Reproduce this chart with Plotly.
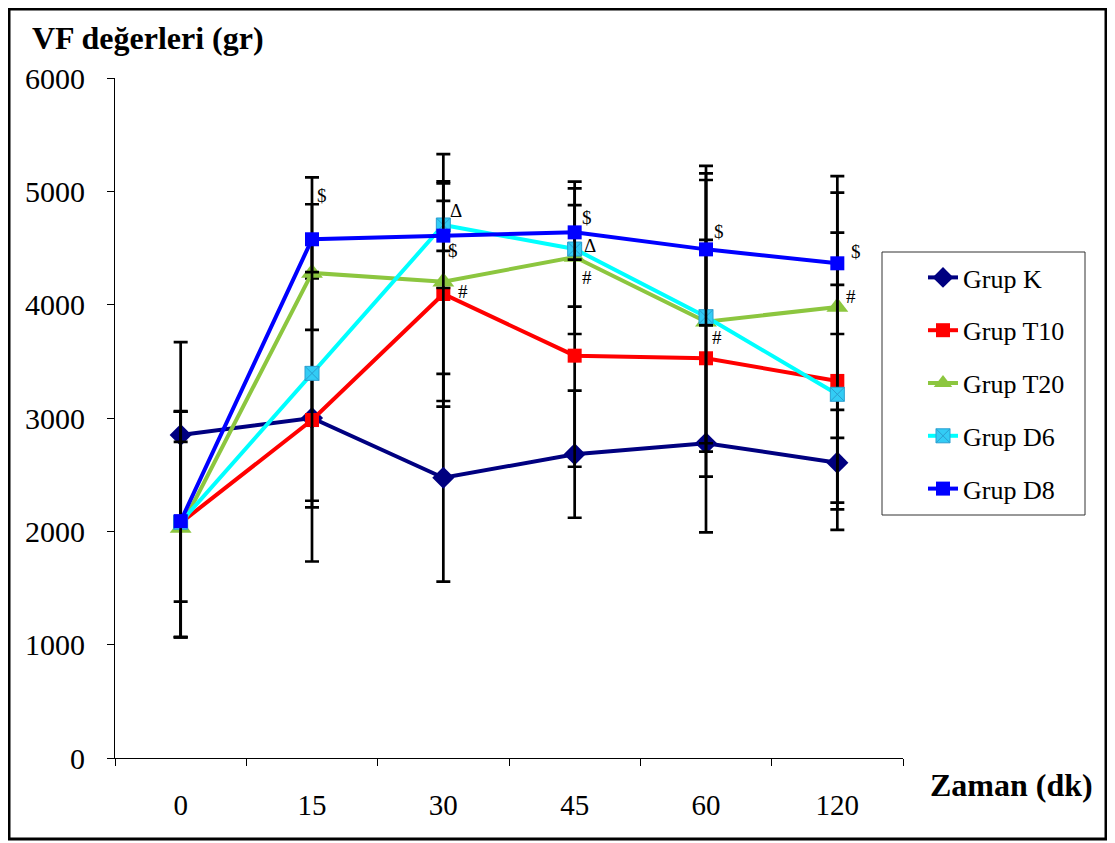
import plotly.graph_objects as go

categories = ["0", "15", "30", "45", "60", "120"]

grup_k = [2850, 3000, 2473, 2680, 2777, 2606]
grup_t10 = [2075, 2982, 4094, 3550, 3527, 3327]
grup_t20 = [2030, 4280, 4203, 4420, 3850, 3980]
grup_d6 = [2080, 3394, 4703, 4491, 3894, 3209]
grup_d8 = [2090, 4577, 4609, 4638, 4488, 4365]

k_plus = [820, 390, 917, 561, 786, 465]
k_minus = [820, 730, 917, 560, 786, 594]
t10_plus = [985, 1250, 994, 980, 1045, 1308]
t10_minus = [1005, 1248, 994, 980, 1045, 1074]
t20_plus = [1025, 606, 1126, 665, 1250, 1155]
t20_minus = [965, 503, 1053, 679, 1147, 1155]
d6_plus = [975, 1180, 212, 535, 1330, 965]
d6_minus = [1015, 1182, 229, 509, 1117, 1015]
d8_plus = [700, 546, 462, 241, 671, 624]
d8_minus = [710, 290, 462, 241, 671, 624]

ann_x = ["15", "30", "30", "30", "45", "45", "45", "60", "60", "120", "120"]
ann_y = [4959, 4835, 4474, 4112, 4765, 4518, 4244, 4650, 3706, 4465, 4068]
ann_text = ["$", "Δ", "$", "#", "$", "Δ", "#", "$", "#", "$", "#"]
ann_dx = [10, 13, 10, 20, 12, 15, 12, 13, 11, 19, 14]

FONT = "Liberation Serif"

# page offset (body margin) is 8px; geometry below is in figure pixels
L, T, PW, PH = 107, 70, 788, 680


def px(figx):
    return (figx - L) / PW


def py(figy):
    return (T + PH - figy) / PH


series = [
    ("Grup K", grup_k, k_plus, k_minus, "#000080", "diamond", 17, "#000080", 0),
    ("Grup T10", grup_t10, t10_plus, t10_minus, "#FF0000", "square", 14, "#FF0000", 0),
    ("Grup T20", grup_t20, t20_plus, t20_minus, "#8CC63F", "triangle-up", 19, "#8CC63F", 0),
    ("Grup D6", grup_d6, d6_plus, d6_minus, "#00FFFF", "square-x", 14, "#2A9FD0", 1),
    ("Grup D8", grup_d8, d8_plus, d8_minus, "#0000FF", "square", 14, "#0000FF", 0),
]

fig = go.Figure()
for i, (name, vals, ep, em, col, sym, size, mline, mlw) in enumerate(series):
    mcolor = "#33CCF5" if name == "Grup D6" else col
    fig.add_trace(go.Scatter(
        x=categories, y=vals, name=name, mode="lines+markers",
        line=dict(color=col, width=4),
        marker=dict(symbol=sym, size=size, color=mcolor,
                    line=dict(color=mline, width=mlw)),
        error_y=dict(type="data", symmetric=False, array=ep, arrayminus=em,
                     color="black", thickness=2.7, width=7),
        legendgroup=name,
    ))

annotations = []
for x, y, t, dx in zip(ann_x, ann_y, ann_text, ann_dx):
    annotations.append(dict(x=categories.index(x), y=y, text=t, showarrow=False,
                            xref="x", yref="y", xshift=dx,
                            font=dict(family=FONT, size=19, color="black")))

annotations.append(dict(text="<b>VF değerleri (gr)</b>", xref="paper", yref="paper",
                        x=px(30 - 8), y=py(38 - 8), xanchor="left", yanchor="middle",
                        showarrow=False, font=dict(family=FONT, size=32, color="black")))
annotations.append(dict(text="<b>Zaman (dk)</b>", xref="paper", yref="paper",
                        x=px(928 - 8), y=py(785 - 8), xanchor="left", yanchor="middle",
                        showarrow=False, font=dict(family=FONT, size=32, color="black")))

shapes = [
    dict(type="rect", xref="paper", yref="paper",
         x0=px(1), x1=px(1098), y0=py(831), y1=py(1),
         line=dict(color="black", width=3), fillcolor="rgba(0,0,0,0)"),
    dict(type="rect", xref="paper", yref="paper",
         x0=px(882 - 8), x1=px(1085 - 8), y0=py(515 - 8), y1=py(252 - 8),
         line=dict(color="#333333", width=1), fillcolor="rgba(0,0,0,0)"),
]

fig.update_layout(
    width=1107, height=835,
    margin=dict(l=L, r=1107 - L - PW, t=T, b=835 - T - PH),
    paper_bgcolor="white", plot_bgcolor="white",
    font=dict(family=FONT, color="black"),
    showlegend=True,
    legend=dict(x=px(915), y=py(246), xanchor="left", yanchor="top",
                bgcolor="rgba(0,0,0,0)", borderwidth=0,
                font=dict(family=FONT, size=26, color="black"),
                tracegroupgap=16, itemsizing="trace"),
    xaxis=dict(type="category", range=[-0.5, 5.5], showgrid=False, zeroline=False,
               showline=True, linecolor="black", linewidth=1,
               ticks="outside", tickson="boundaries", ticklen=7, tickcolor="black",
               tickfont=dict(family=FONT, size=29, color="black"), ticklabelstandoff=21),
    yaxis=dict(range=[0, 6000], dtick=1000, showgrid=False, zeroline=False,
               showline=True, linecolor="black", linewidth=1,
               ticks="outside", ticklen=7, tickcolor="black",
               tickfont=dict(family=FONT, size=30, color="black"), ticklabelstandoff=16),
    annotations=annotations,
    shapes=shapes,
)

fig.write_html("out.html")
